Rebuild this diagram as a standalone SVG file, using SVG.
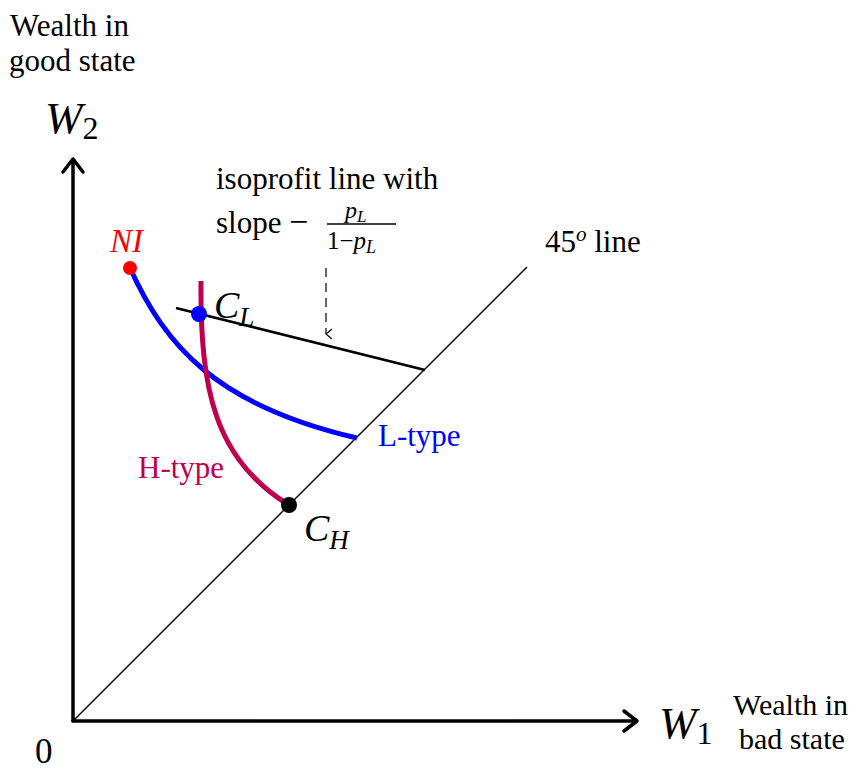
<svg xmlns="http://www.w3.org/2000/svg" width="856" height="772" viewBox="0 0 856 772">
<style>
.t{font-family:"Liberation Serif","Times New Roman",serif;fill:#000}
.i{font-style:italic}
</style>
<defs>
<marker id="da" markerWidth="12" markerHeight="10" refX="6" refY="8" orient="auto" markerUnits="userSpaceOnUse">
<path d="M1,2 L6,8 L11,2" fill="none" stroke="#000" stroke-width="1.2"/>
</marker>
</defs>
<rect width="856" height="772" fill="#fff"/>
<g id="axes" fill="none" stroke="#000" stroke-width="3.5" stroke-linecap="round" stroke-linejoin="round">
<path d="M73,721 L73,160"/>
<path d="M63,172 L73,159 L83,172"/>
<path d="M73,721 L636,721"/>
<path d="M624,711 L637,721 L624,731"/>
</g>
<g id="connectors" fill="none">
<path id="line45" d="M73,721 L527,267" stroke="#000" stroke-width="1.4"/>
<path id="isoprofit" d="M176,308 L425,370" stroke="#000" stroke-width="2.6"/>
<path id="dashed" d="M326,268 L326,334" stroke="#000" stroke-width="1.2" stroke-dasharray="9,6" marker-end="url(#da)"/>
<path id="ltype" d="M130,268 C165,345 215,405 357,438" stroke="#0000ff" stroke-width="5"/>
<path id="htype" d="M201,281 C200,390 215,460 289,505" stroke="#c0004e" stroke-width="5"/>
</g>
<g id="NI"><circle cx="130" cy="268" r="7" fill="#ff0000"/><text class="t i" x="110" y="252" font-size="33" style="fill:#ff0000">NI</text></g>
<g id="CL"><circle cx="199" cy="314" r="8" fill="#0000ff"/><text class="t i" x="214" y="318" font-size="38">C<tspan font-size="27" dy="8">L</tspan></text></g>
<g id="CH"><circle cx="289" cy="505" r="8" fill="#000"/><text class="t i" x="304" y="541" font-size="38">C<tspan font-size="27" dy="8">H</tspan></text></g>
<g id="labels">
<text class="t" x="10" y="36" font-size="31">Wealth in</text>
<text class="t" x="9" y="71" font-size="31">good state</text>
<text class="t i" x="45" y="133" font-size="45">W<tspan font-style="normal" font-size="32" dy="6">2</tspan></text>
<text class="t" x="216" y="189" font-size="31">isoprofit line with</text>
<text class="t" x="216" y="233" font-size="31">slope</text>
<text class="t" x="289" y="233" font-size="34">−</text>
<text class="t i" x="345" y="218" font-size="24">p<tspan font-size="17" dy="4">L</tspan></text>
<line x1="327" y1="224" x2="396" y2="224" stroke="#000" stroke-width="1.3"/>
<text class="t" x="327" y="249" font-size="25">1−<tspan font-style="italic">p</tspan><tspan font-style="italic" font-size="18" dy="4">L</tspan></text>
<text class="t" x="545" y="252" font-size="31">45<tspan class="i" font-size="21" dy="-11">o</tspan><tspan dy="11"> line</tspan></text>
<text class="t" x="378" y="446" font-size="31" style="fill:#0000ff">L-type</text>
<text class="t" x="138" y="478" font-size="31" style="fill:#c0004e">H-type</text>
<text class="t i" x="659" y="738" font-size="45">W<tspan font-style="normal" font-size="32" dy="6">1</tspan></text>
<text class="t" x="733" y="715" font-size="30">Wealth in</text>
<text class="t" x="739" y="749" font-size="30">bad state</text>
<text class="t" x="35" y="763" font-size="35">0</text>
</g>
</svg>
